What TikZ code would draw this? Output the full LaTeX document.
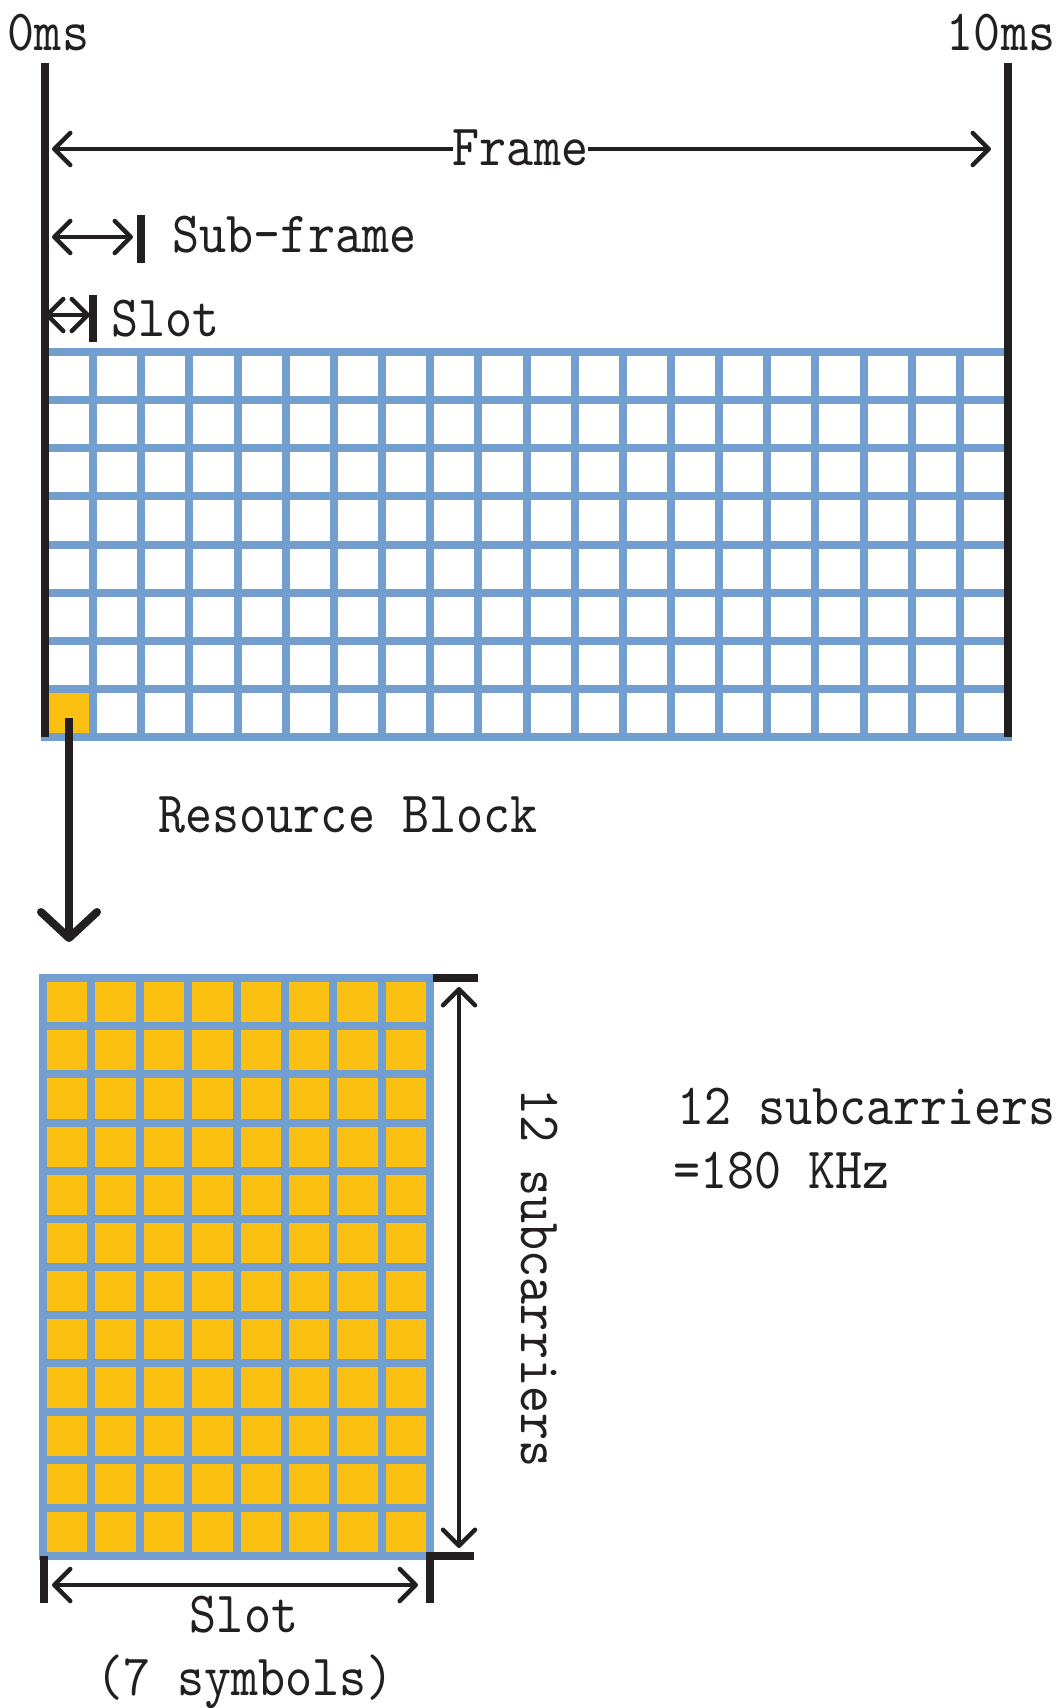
\documentclass[tikz,border=0pt]{standalone}
\usepackage{fontspec}
\newfontfamily\diagfont[FakeStretch=0.88]{lmmono10-regular.otf}
\usetikzlibrary{arrows.meta}
\definecolor{gridblue}{RGB}{114,158,208}
\definecolor{rbgold}{RGB}{251,192,17}
\definecolor{ink}{RGB}{35,31,32}

\begin{document}
\begin{tikzpicture}[x=1pt,y=-1pt,
  lbl/.style={font=\diagfont\fontsize{58.5}{70}\selectfont, text=ink, inner sep=0pt, anchor=base},
  bar/.style={draw=ink, line width=7.5pt},
  tickbar/.style={draw=ink, line width=8pt},
  dim/.style={draw=ink, line width=4.5pt, >={Straight Barb[length=16pt,width=32pt,round]}, <->},
  gline/.style={draw=gridblue, line width=8pt, line cap=rect},
  bigarrow/.style={draw=ink, line width=8pt, arrows={-Straight Barb[length=26pt,width=56pt,round]}}]

\useasboundingbox (0,0) rectangle (1062,1708);

% ---------- frame: 20 slots x 8 resource-block rows ----------
\node[fill=rbgold, minimum width=48pt, minimum height=48pt, inner sep=0pt] (rb) at (69,713) {};
\foreach \r in {0,...,8}
  \draw[gline] (45,{352+\r*48.125}) -- (1008,{352+\r*48.125});
\foreach \c in {1,...,19}
  \draw[gline] ({45+\c*48.15},352) -- ({45+\c*48.15},737);

% frame boundaries
\coordinate (b0top) at (45,63);   \coordinate (b0bot) at (45,737);
\coordinate (b10top) at (1008,63); \coordinate (b10bot) at (1008,737);
\draw[bar] (b0top) -- (b0bot);
\draw[bar] (b10top) -- (b10bot);
\node[lbl] (t0) at (48.5,50) {0ms};
\node[lbl] (t10) at (1001,50) {10ms};

% frame length
\coordinate (fl) at (52,149); \coordinate (fr) at (991,149);
\draw[dim] (fl) -- (fr);
\node[lbl, fill=white] (frame) at (520.5,165) {Frame};

% sub-frame length
\coordinate (sfa) at (52,237); \coordinate (sfb) at (133,237);
\draw[dim] (sfa) -- (sfb);
\draw[tickbar] (141,215) -- (141,263);
\node[lbl] (subframe) at (294.5,252) {Sub-frame};

% slot length
\coordinate (sla) at (45,315); \coordinate (slb) at (90,315);
\draw[dim] (sla) -- (slb);
\draw[tickbar] (93,295) -- (93,342);
\node[lbl] (slot) at (165.5,336) {Slot};

% ---------- zoom into one resource block ----------
\coordinate (rbend) at (69,942);
\draw[bigarrow] ([yshift=-5pt]rb.center) -- (rbend);
\node[lbl] (rblabel) at (348,832) {Resource Block};

% resource block: 8 columns x 12 subcarriers
\fill[rbgold] (43,978) rectangle (430,1556);
\foreach \r in {0,...,12}
  \draw[gline] (43,{978+\r*48.1667}) -- (430,{978+\r*48.1667});
\foreach \c in {0,...,8}
  \draw[gline] ({43+\c*48.375},978) -- ({43+\c*48.375},1556);

% extent marks
\draw[tickbar] (433,978) -- (478,978);
\draw[tickbar, line join=miter] (474,1556) -- (430,1556) -- (430,1603);
\draw[tickbar] (44,1556) -- (44,1603);

\coordinate (va) at (459,987); \coordinate (vb) at (459,1548);
\draw[dim] (va) -- (vb);
\coordinate (ha) at (52,1585); \coordinate (hb) at (418,1585);
\draw[dim] (ha) -- (hb);

\node[lbl, rotate=-90] (subv) at (521,1278) {12 subcarriers};
\node[lbl] (sub1) at (866.5,1124) {12 subcarriers};
\node[lbl] (sub2) at (781.5,1188) {=180 KHz};
\node[lbl] (slotb) at (244,1632) {Slot};
\node[lbl] (syms) at (245,1695) {(7 symbols)};
\end{tikzpicture}
\end{document}
